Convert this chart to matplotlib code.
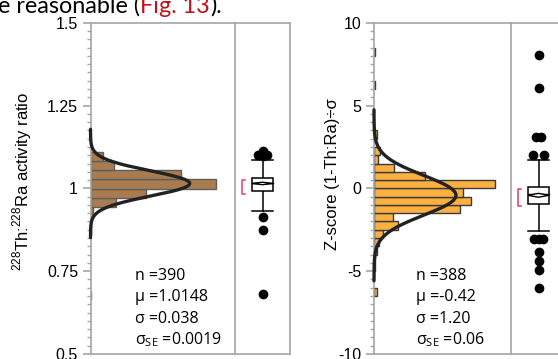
import numpy as np
import matplotlib
matplotlib.use("Agg")
import matplotlib.pyplot as plt
from matplotlib.patches import Polygon

# ---------------- data ----------------
# Panel 1: 228Th:228Ra activity ratio
ratio_bin_lo = [0.663, 0.859, 0.887, 0.915, 0.943, 0.971, 0.999, 1.027, 1.055, 1.083]
ratio_counts = [1, 1, 1, 3, 29, 64, 145, 105, 27, 15]
ratio_bw = 0.028
ratio_n, ratio_mu, ratio_sd, ratio_se = 390, 1.0148, 0.038, 0.0019
ratio_q1, ratio_med, ratio_q3 = 0.992, 1.015, 1.032
ratio_whisk = [0.932, 1.085]
ratio_short_half = [0.982, 1.025]
ratio_outliers = [0.681, 0.874, 0.913, 1.099, 1.101, 1.101, 1.108, 1.114]
ratio_ticks = [0.5, 0.75, 1.0, 1.25, 1.5]
ratio_ticklabels = ["0.5", "0.75", "1", "1.25", "1.5"]

# Panel 2: Z-score
z_bin_lo = [-6.5, -5.0, -4.5, -4.0, -3.5, -3.0, -2.5, -2.0, -1.5, -1.0, -0.5,
            0.0, 0.5, 1.0, 1.5, 2.0, 3.0, 6.0, 8.0]
z_counts = [2, 1, 1, 2, 4, 7, 19, 15, 68, 76, 70, 95, 40, 16, 3, 5, 2, 1, 1]
z_bw = 0.5
z_n, z_mu, z_sd, z_se = 388, -0.42, 1.20, 0.06
z_q1, z_med, z_q3 = -0.97, -0.36, 0.08
z_whisk = [-2.55, 1.70]
z_short_half = [-1.07, -0.06]
z_outliers = [-6.02, -4.91, -4.36, -3.84, -3.03, -3.03, -3.03, 2.02, 2.02, 3.07, 3.07, 6.06, 8.08]
z_ticks = [-10, -5, 0, 5, 10]
z_ticklabels = ["-10", "-5", "0", "5", "10"]

# styling offsets for overlapping outlier dots (horizontal spread only)
ratio_jitter = [0, 0, 0, 0.0, -0.075, 0.075, 0, 0]
z_jitter = [0, 0, 0, 0, -0.09, 0, 0.09, -0.1, 0.1, -0.04, 0.04, 0, 0]

# ---------------- figure ----------------
W, H = 558, 359
fig = plt.figure(figsize=(W / 100, H / 100), dpi=100)
GRAY = "#a6a6a6"
TICKFONT = "Liberation Sans"
STATFONT = ["Open Sans", "DejaVu Sans"]


def ax_px(x0, y0, x1, y1):
    return fig.add_axes([x0 / W, 1 - y1 / H, (x1 - x0) / W, (y1 - y0) / H])


def panel(xaxis, xdiv, xright, ylim, ticks, ticklabels, minor_step,
          bin_lo, counts, bw, n, mu, sd, se, q1, med, q3, whisk, short_half,
          outliers, jitter, xmax, face, edge, stats, ylabel, ylabel_x, ylabel_y):
    y_top, y_bot = 22.7, 354.0
    axh = ax_px(xaxis, y_top, xdiv, y_bot)
    axb = ax_px(xdiv, y_top, xright, y_bot)
    for a in (axh, axb):
        a.set_ylim(*ylim)
        for s in a.spines.values():
            s.set_color(GRAY)
            s.set_linewidth(1.2)
        a.set_xticks([])
        a.patch.set_alpha(0)
    axh.set_xlim(0, xmax)
    axh.spines["right"].set_visible(False)
    axh.set_yticks(ticks)
    axh.set_yticklabels(ticklabels, fontfamily=TICKFONT, fontsize=11.5)
    axh.set_yticks(np.arange(ylim[0], ylim[1] + 1e-9, minor_step), minor=True)
    axh.tick_params(axis="y", which="major", length=6, width=1.2, color=GRAY, pad=3)
    axh.tick_params(axis="y", which="minor", length=3, width=1.0, color=GRAY)
    axb.set_yticks([])
    axb.set_xlim(0, 1)

    # histogram (horizontal bars)
    axh.barh(bin_lo, counts, height=bw, align="edge", color=face,
             edgecolor=edge, linewidth=1.0, zorder=2)
    # normal fit
    yy = np.linspace(mu - 4.3 * sd, mu + 4.3 * sd, 400)
    pdf = n * bw / (sd * np.sqrt(2 * np.pi)) * np.exp(-0.5 * ((yy - mu) / sd) ** 2)
    axh.plot(pdf, yy, color="#222222", lw=2.4, zorder=3, solid_capstyle="round",
             clip_on=False)

    # stats text
    for i, s in enumerate(stats):
        axh.text(0.31, 0.235 - i * 0.064, s, transform=axh.transAxes,
                 fontfamily=STATFONT, fontsize=11.5, va="center", ha="left")

    # box plot
    cx, hw = 0.5, 0.19
    axb.add_patch(plt.Rectangle((cx - hw, q1), 2 * hw, q3 - q1, facecolor="white",
                                edgecolor="black", lw=1.1, zorder=3))
    axb.plot([cx - hw, cx + hw], [med, med], color="black", lw=1.0, zorder=4)
    ci = 1.96 * se
    dia = Polygon([[cx - hw, mu], [cx, mu + ci], [cx + hw, mu], [cx, mu - ci]],
                  closed=True, facecolor="white", edgecolor="black", lw=1.0, zorder=4)
    axb.add_patch(dia)
    axb.plot([cx, cx], [whisk[0], q1], color="black", lw=1.1, zorder=2)
    axb.plot([cx, cx], [q3, whisk[1]], color="black", lw=1.1, zorder=2)
    for w in whisk:
        axb.plot([cx - hw, cx + hw], [w, w], color="black", lw=1.1, zorder=2)
    bx0, bx1 = 0.13, 0.175
    axb.plot([bx1, bx0, bx0, bx1], [short_half[1], short_half[1], short_half[0], short_half[0]],
             color="#e0405a", lw=1.1, zorder=2)
    axb.plot(cx + np.array(jitter), outliers, "o", color="black", ms=7, zorder=5,
             markeredgewidth=0)

    fig.text(ylabel_x / W, 1 - ylabel_y / H, ylabel, rotation=90, ha="center",
             va="center", fontfamily=TICKFONT, fontsize=12)


panel(90.5, 235, 290, (0.5, 1.5), ratio_ticks, ratio_ticklabels, 0.025,
      ratio_bin_lo, ratio_counts, ratio_bw, ratio_n, ratio_mu, ratio_sd, ratio_se,
      ratio_q1, ratio_med, ratio_q3, ratio_whisk, ratio_short_half,
      ratio_outliers, ratio_jitter, 167.0, "#a97c50", "#5e5e5e",
      ["n =390", "μ =1.0148", "σ =0.038", r"σ$_\mathregular{SE}$ =0.0019"],
      r"$^\mathregular{228}$Th:$^\mathregular{228}$Ra activity ratio", 22, 181)

panel(374, 511, 566, (-10, 10), z_ticks, z_ticklabels, 0.5,
      z_bin_lo, z_counts, z_bw, z_n, z_mu, z_sd, z_se,
      z_q1, z_med, z_q3, z_whisk, z_short_half,
      z_outliers, z_jitter, 107.8, "#fbb040", "#3a3a3a",
      ["n =388", "μ =-0.42", "σ =1.20", r"σ$_\mathregular{SE}$ =0.06"],
      "Z-score (1-Th:Ra)÷σ", 332, 174)

# cropped caption text at the top
fig.canvas.draw()
r = fig.canvas.get_renderer()
x = -1.5 / W
yb = 1 - 13.0 / H
for s, c in [("e reasonable (", "black"), ("Fig. 13", "#c0101a"), (").", "black")]:
    t = fig.text(x, yb, s, color=c, fontfamily=["Lato", "DejaVu Sans"], fontsize=16.8,
                 va="baseline", ha="left")
    bb = t.get_window_extent(renderer=r)
    x = bb.x1 / W

fig.savefig("out.png", dpi=100)
